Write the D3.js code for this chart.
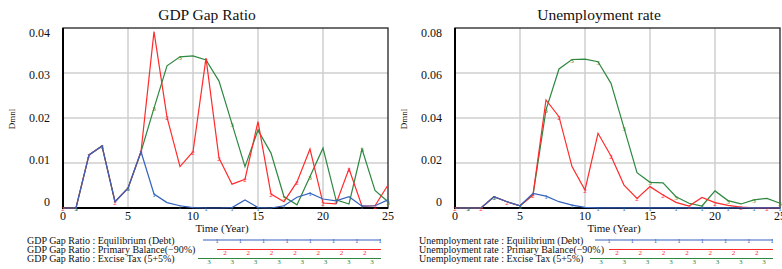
<!DOCTYPE html>
<html>
<head>
<meta charset="utf-8">
<script src="https://cdn.jsdelivr.net/npm/d3@7"></script>
<style>
  body { margin: 0; background: #fff; }
  svg text { font-family: "Liberation Serif", "DejaVu Serif", serif; fill: #111; }
</style>
</head>
<body>
<div id="chart"></div>
<script>
// years 0..25
var years = d3.range(0, 26);

// GDP Gap Ratio
var gdpEquilibrium = [0, 0, 0.0118, 0.0138, 0.0014, 0.0044, 0.0125, 0.0031, 0.0012, 0.0005, 0.0001,
    0, 0, 0.0001, 0.0018, 0.0001, 0, 0.0005, 0.0024, 0.0033, 0.002, 0.0016, 0.0025, 0.0004, 0.0005, 0.0018];
var gdpPrimary = [0, 0, 0.0118, 0.0138, 0.0014, 0.0044, 0.0125, 0.0392, 0.0202, 0.0092, 0.0125,
    0.0333, 0.0111, 0.0053, 0.0064, 0.0192, 0.0031, 0.0014, 0.0058, 0.0131, 0.0011, 0.0009, 0.0087, 0.0004, 0.0005, 0.0051];
var gdpExcise = [0, 0, 0.0118, 0.0138, 0.0014, 0.0044, 0.0125, 0.0222, 0.0316, 0.0336, 0.0338,
    0.0329, 0.0282, 0.0187, 0.0092, 0.0173, 0.0122, 0.0025, 0.0007, 0.007, 0.0133, 0.0018, 0.0009, 0.0131, 0.0039, 0.0014];

// Unemployment rate
var unEquilibrium = [0, 0, 0, 0.005, 0.0028, 0.001, 0.0065, 0.0053, 0.0028, 0.0013, 0.0003,
    0.0001, 0.0001, 0.0001, 0.0001, 0.0001, 0.0001, 0.0001, 0.0001, 0.0001, 0.0001, 0.0001, 0.0001, 0.0001, 0.0001, 0.0001];
var unPrimary = [0, 0, 0, 0.005, 0.0028, 0.001, 0.0058, 0.048, 0.0406, 0.0184, 0.008,
    0.0332, 0.0231, 0.0102, 0.0043, 0.0095, 0.0058, 0.0025, 0.0009, 0.0047, 0.0024, 0.0012, 0.0004, 0.0001, 0.0001, 0];
var unExcise = [0, 0, 0, 0.005, 0.0028, 0.001, 0.0058, 0.0436, 0.0618, 0.066, 0.0662,
    0.065, 0.0554, 0.0356, 0.0157, 0.0114, 0.0112, 0.005, 0.0021, 0.0009, 0.0076, 0.0033, 0.0018, 0.0036, 0.0043, 0.0021];

var xTicks = [0, 5, 10, 15, 20, 25];
var gdpTicks = [0, 0.01, 0.02, 0.03, 0.04];
var unTicks = [0, 0.02, 0.04, 0.06, 0.08];
var scenarios = ["Equilibrium (Debt)", "Primary Balance(\u221290%)", "Excise Tax (5+5%)"];
var colors = ["#3563bd", "#ff2b2b", "#2e8840"];

var svg = d3.select("#chart").append("svg")
    .attr("width", 782)
    .attr("height", 269);

function drawPanel(opt) {
    var x = d3.scaleLinear().domain([0, 25]).range([opt.left, opt.left + 325]);
    var y = d3.scaleLinear().domain([0, opt.ymax]).range([208, 28]);
    // vensim spreads the value labels a little tighter than the grid
    var yLab = d3.scaleLinear().domain([0, opt.ymax]).range([202, 33]);
    var g = svg.append("g");

    // grid
    g.append("g").selectAll("line.v")
        .data(xTicks.slice(1, -1))
        .enter().append("line")
        .attr("x1", d => x(d)).attr("x2", d => x(d))
        .attr("y1", y(opt.ymax)).attr("y2", y(0))
        .style("stroke", "#cfcfcf").style("stroke-width", 1.5);
    g.append("g").selectAll("line.h")
        .data(opt.yticks.slice(1, -1))
        .enter().append("line")
        .attr("x1", x(0)).attr("x2", x(25))
        .attr("y1", d => y(d)).attr("y2", d => y(d))
        .style("stroke", "#cfcfcf").style("stroke-width", 1.5);

    // frame
    g.append("rect")
        .attr("x", x(0)).attr("y", y(opt.ymax))
        .attr("width", x(25) - x(0)).attr("height", y(0) - y(opt.ymax))
        .style("fill", "none").style("stroke", "#222").style("stroke-width", 1.3);
    g.append("path")
        .attr("d", "M" + x(0) + "," + y(opt.ymax) + "V" + y(0) + "H" + x(25))
        .style("fill", "none").style("stroke", "#000").style("stroke-width", 2);

    // tick labels
    g.append("g").selectAll("text")
        .data(xTicks)
        .enter().append("text")
        .attr("x", d => x(d)).attr("y", 220)
        .attr("text-anchor", "middle")
        .style("font-size", "12px")
        .text(d => d);
    g.append("g").selectAll("text")
        .data(opt.yticks)
        .enter().append("text")
        .attr("x", opt.left - 13).attr("y", d => yLab(d) + 4)
        .attr("text-anchor", "end")
        .style("font-size", "12px")
        .text(d => d === 0 ? "0" : d3.format(".2f")(d));

    // titles
    g.append("text")
        .attr("x", opt.left + 144).attr("y", 20)
        .attr("text-anchor", "middle")
        .style("font-size", "15.5px")
        .text(opt.title);
    g.append("text")
        .attr("transform", "translate(" + (opt.left - 48) + ",119) rotate(-90)")
        .attr("text-anchor", "middle")
        .style("font-size", "9px")
        .text("Dmnl");
    g.append("text")
        .attr("x", opt.left + 159).attr("y", 232)
        .attr("text-anchor", "middle")
        .style("font-size", "11px")
        .text("Time (Year)");

    // series, drawn 3, 2, 1 so blue is on top
    var line = d3.line().x((d, i) => x(years[i])).y(d => y(d));
    [2, 1, 0].forEach(function (k) {
        g.append("path")
            .datum(opt.series[k])
            .attr("d", line)
            .style("fill", "none")
            .style("stroke", colors[k])
            .style("stroke-width", 1.2);
        g.append("g").selectAll("text")
            .data(years.filter(t => (t + k) % 2 === 1))
            .enter().append("text")
            .attr("x", t => x(t)).attr("y", t => y(opt.series[k][t]) + 3)
            .attr("text-anchor", "middle")
            .style("font-size", "7px")
            .style("fill", colors[k])
            .text(k + 1);
    });

    // legend
    var rowY = [240, 249.5, 258.5];
    var lineStart = [opt.left + 140, opt.left + 154, opt.left + 135];
    var markStart = [opt.left + 154, opt.left + 162, opt.left + 146];
    scenarios.forEach(function (s, k) {
        g.append("text")
            .attr("x", opt.left - 36).attr("y", rowY[k] + 3.5)
            .style("font-size", "10px")
            .text(opt.name + " : " + s);
        g.append("line")
            .attr("x1", lineStart[k]).attr("x2", opt.left + 318)
            .attr("y1", rowY[k]).attr("y2", rowY[k])
            .style("stroke", colors[k]).style("stroke-width", 1.2);
        g.append("g").selectAll("text")
            .data(d3.range(markStart[k], opt.left + 320, 23.3))
            .enter().append("text")
            .attr("x", d => d).attr("y", rowY[k] + (k === 0 ? 3 : 5))
            .attr("text-anchor", "middle")
            .style("font-size", "7px")
            .style("fill", colors[k])
            .text(k + 1);
    });
}

drawPanel({
    left: 63, ymax: 0.04, yticks: gdpTicks,
    title: "GDP Gap Ratio", name: "GDP Gap Ratio",
    series: [gdpEquilibrium, gdpPrimary, gdpExcise]
});
drawPanel({
    left: 455, ymax: 0.08, yticks: unTicks,
    title: "Unemployment rate", name: "Unemployment rate",
    series: [unEquilibrium, unPrimary, unExcise]
});
</script>
</body>
</html>
